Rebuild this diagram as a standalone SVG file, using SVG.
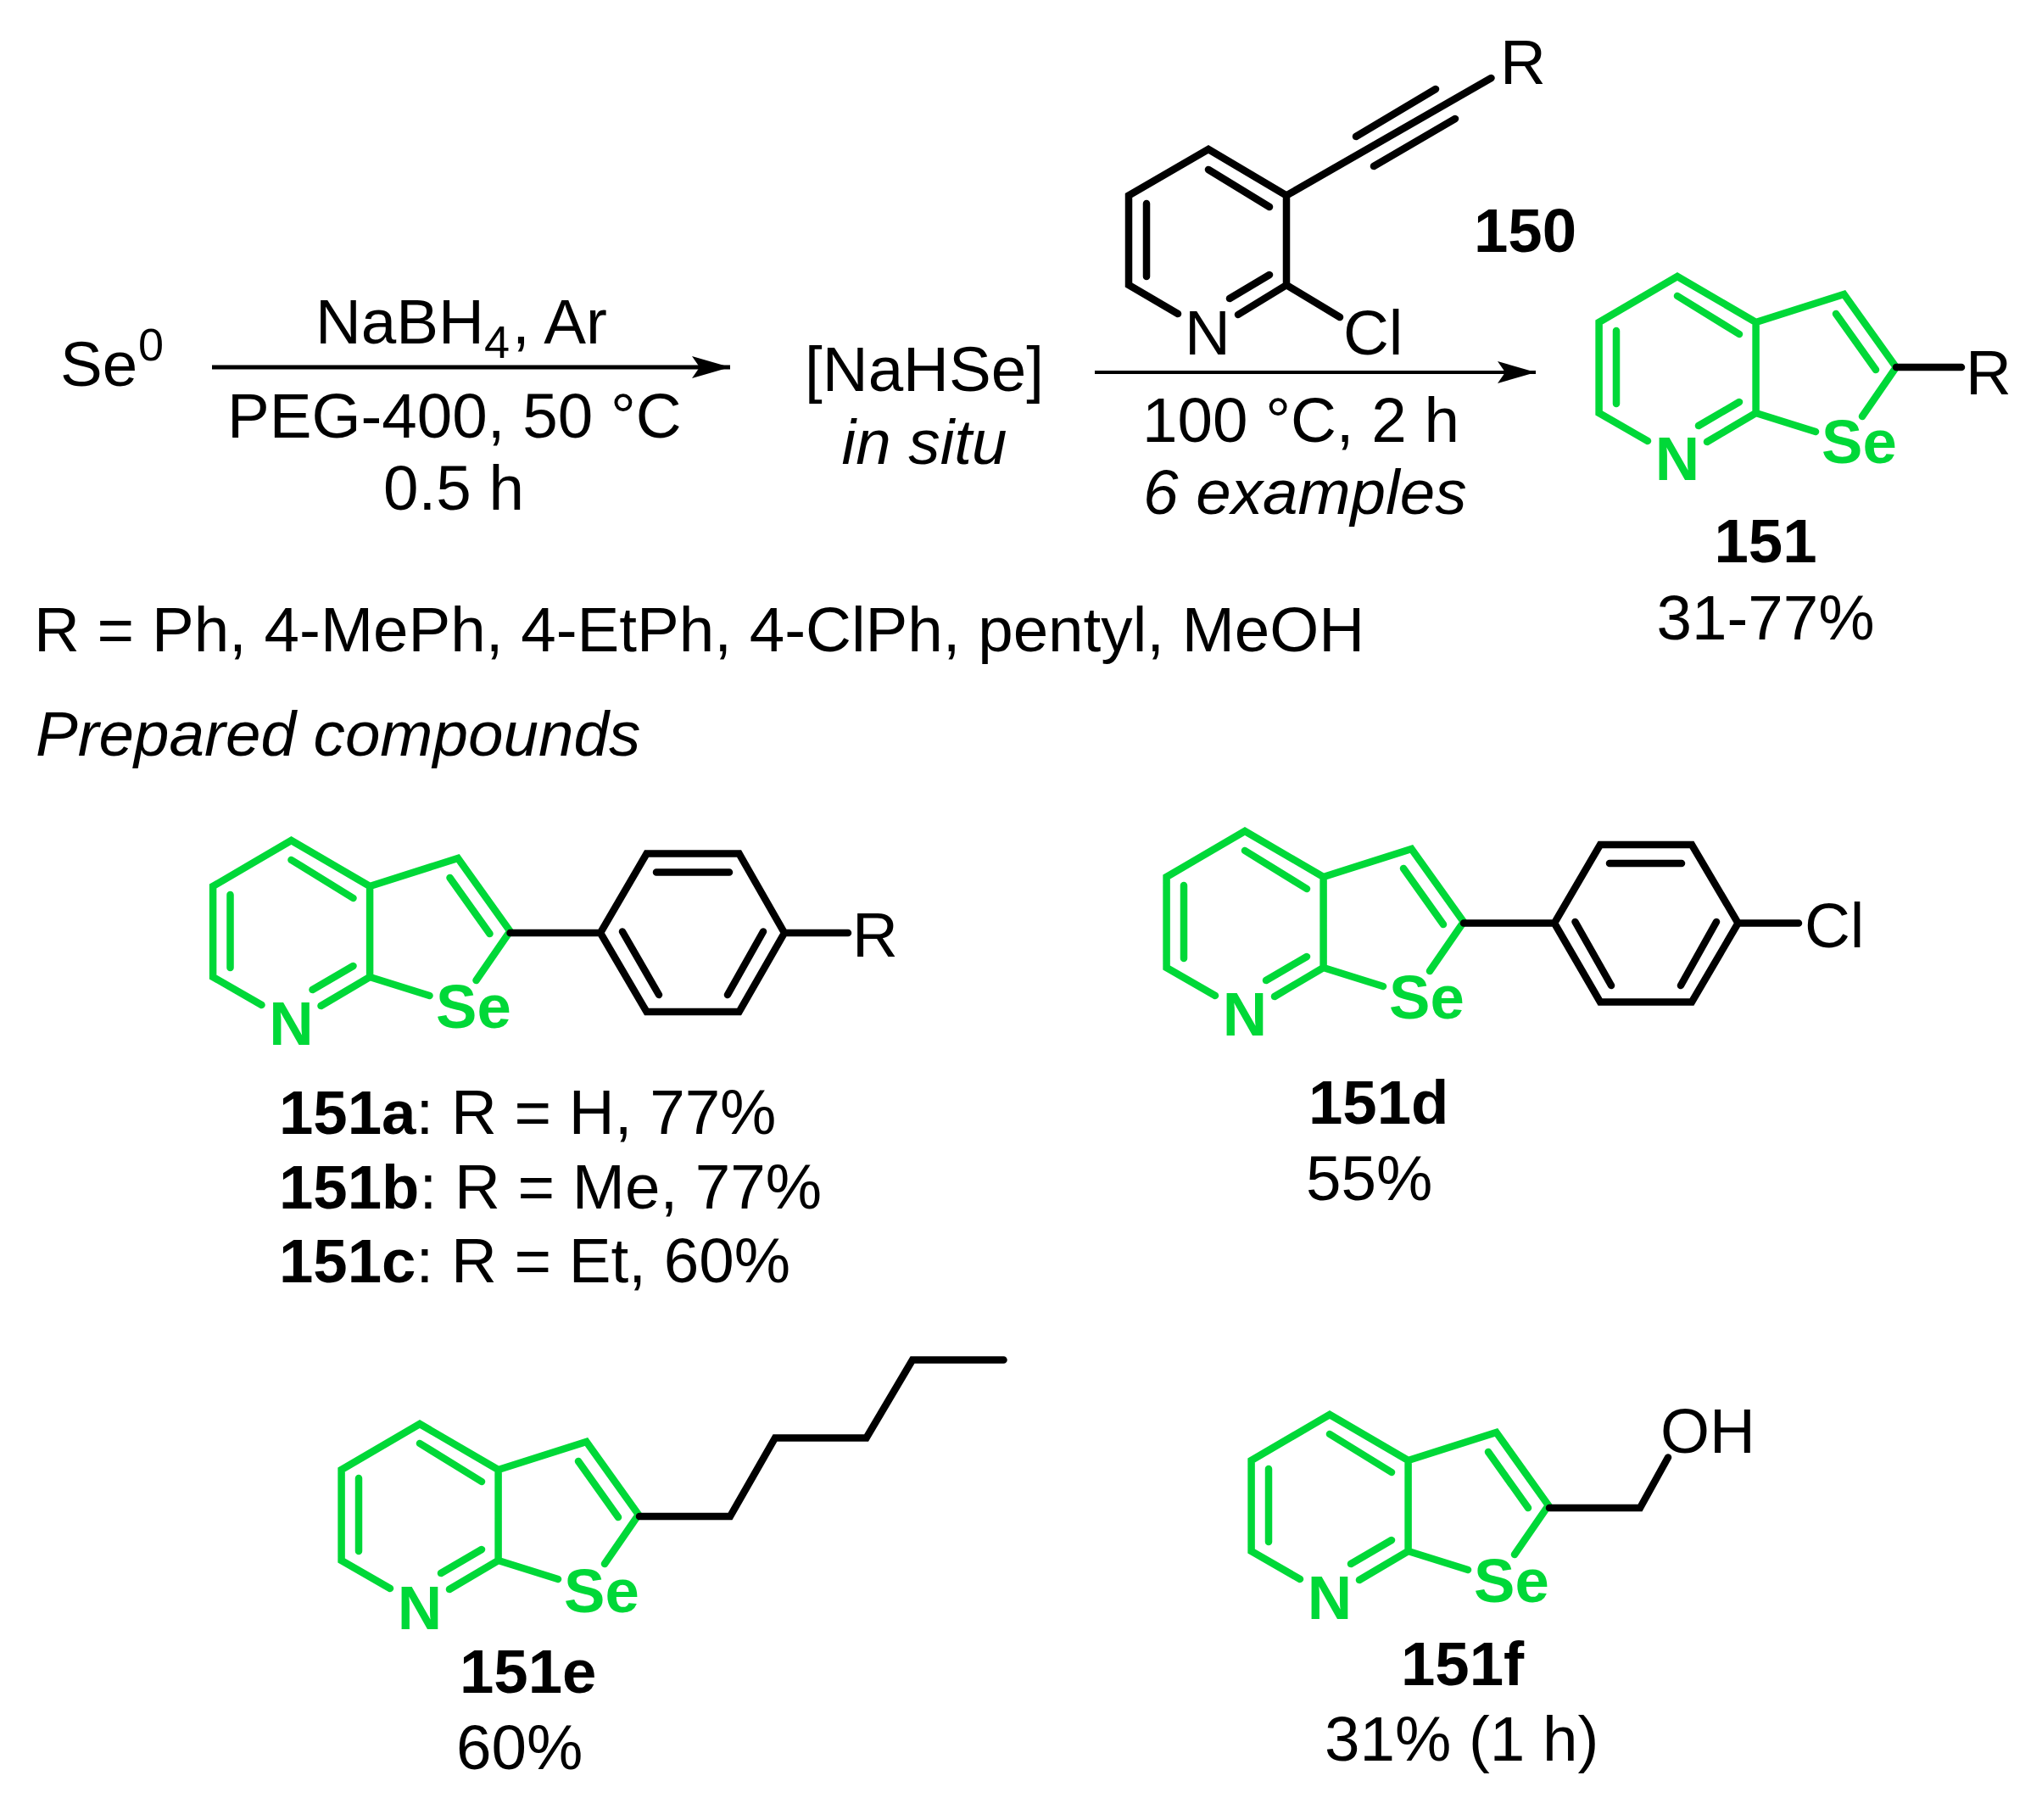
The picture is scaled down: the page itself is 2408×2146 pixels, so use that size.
<svg xmlns="http://www.w3.org/2000/svg" xmlns:xlink="http://www.w3.org/1999/xlink" width="2408" height="2146" viewBox="0 0 2408 2146">
<style>
text{font-family:"Liberation Sans",Arial,sans-serif;font-size:74.6px;fill:#000}
.b{font-weight:bold;font-size:72.6px}
.i{font-style:italic}
.m{text-anchor:middle}
.g{font-size:72.6px;font-weight:bold;fill:#00d838}
.gl,.bl{fill:none;stroke-width:8.5;stroke-linecap:round;stroke-linejoin:miter}
.gl{stroke:#00d838}
.bl{stroke:#000}
.arr{fill:none;stroke:#000}
</style>
<defs>
<path id="core" class="gl" d="M-35,194L-92.4,161V54L0,0L92.6,54V161L35,195M92.6,54L196.5,21L258,107L218,165M92.6,161L163,183M73,148L25,176M-72,64V150M0,23L73,68M187,44L234,110"/>
<marker id="head" markerUnits="userSpaceOnUse" markerWidth="46" markerHeight="26" refX="45" refY="13" orient="auto"><path d="M0,0L45,13L0,26L9,13Z" fill="#000"/></marker>
</defs>
<rect width="2408" height="2146" fill="#fff"/>
<g id="connectors">
<path class="arr" stroke-width="5" marker-end="url(#head)" d="M250,433H861"/>
<path class="arr" stroke-width="4" marker-end="url(#head)" d="M1291,439H1811"/>
</g>
<g id="se0"><text x="71" y="455">Se<tspan x="163" y="425" font-size="54">0</tspan></text></g>
<g id="cond1">
<text x="372" y="405">NaBH<tspan x="571" y="422" font-size="54">4</tspan><tspan x="604" y="405">, Ar</tspan></text>
<text x="268" y="516">PEG-400, 50 °C</text>
<text class="m" x="535" y="601">0.5 h</text>
</g>
<g id="nahse">
<text class="m" x="1090" y="461">[NaHSe]</text>
<text class="m i" x="1090" y="547">in situ</text>
</g>
<g id="n150">
<path class="bl" d="M1389,370L1331,336V230.5L1425,176L1517,230.5V336L1460,371M1497,324L1450,352M1352,240V326M1425,200L1497,244M1517,336L1580,374M1517,230.5L1758.5,92M1599,161L1693,105M1620,196L1716,140"/>
<text class="m" x="1424" y="418">N</text>
<text x="1584" y="418">Cl</text>
<text x="1769" y="99">R</text>
<text class="b" x="1738" y="297">150</text>
</g>
<g id="cond2">
<text class="m" x="1534" y="521">100 °C, 2 h</text>
<text class="i" x="1348" y="606">6 examples</text>
</g>
<g id="n151">
<use href="#core" x="1978" y="326"/>
<text class="g m" x="1978" y="566">N</text>
<text class="g" x="2148" y="546">Se</text>
<path class="bl" d="M2236,433H2313"/>
<text x="2318" y="465">R</text>
<text class="b m" x="2082" y="663">151</text>
<text class="m" x="2082" y="754">31-77%</text>
</g>
<g id="rdef">
<text x="40" y="768">R = Ph, 4-MePh, 4-EtPh, 4-ClPh, pentyl, MeOH</text>
<text class="i" x="42" y="891">Prepared compounds</text>
</g>
<g id="n151a">
<use href="#core" x="343.5" y="991"/>
<text class="g m" x="343.5" y="1232">N</text>
<text class="g" x="514" y="1212">Se</text>
<path class="bl" d="M601.500,1100H708L762.5,1006.6H871.6L925,1100L871.6,1193H762.5L708,1100M925,1100H1000M774,1028.5H860M734,1098.5L777,1173M900,1098.5L858,1173"/>
<text x="1005" y="1128">R</text>
<text x="329" y="1337"><tspan class="b">151a</tspan>: R = H, 77%</text>
<text x="329" y="1425"><tspan class="b">151b</tspan>: R = Me, 77%</text>
<text x="329" y="1512"><tspan class="b">151c</tspan>: R = Et, 60%</text>
</g>
<g id="n151d">
<use href="#core" x="1468" y="980"/>
<text class="g m" x="1468" y="1221">N</text>
<text class="g" x="1638" y="1201">Se</text>
<path class="bl" d="M1726,1088.5H1833L1887,996H1995L2049.6,1088.5L1995,1181.5H1887L1833,1088.5M2049.6,1088.5H2121M1898,1018H1983M1857.5,1087L1900,1162M2024,1087L1982,1162"/>
<text x="2128" y="1117">Cl</text>
<text class="b" x="1543" y="1325">151d</text>
<text x="1540" y="1415">55%</text>
</g>
<g id="n151e">
<use href="#core" x="495" y="1679"/>
<text class="g m" x="495" y="1921">N</text>
<text class="g" x="665" y="1901">Se</text>
<path class="bl" d="M754,1788H861L914,1695.5H1021.6L1076,1603.5H1183.5"/>
<text class="b" x="542" y="1996">151e</text>
<text x="538" y="2086">60%</text>
</g>
<g id="n151f">
<use href="#core" x="1568" y="1668"/>
<text class="g m" x="1568" y="1909">N</text>
<text class="g" x="1738" y="1889">Se</text>
<path class="bl" d="M1827,1778H1934L1967,1718.5"/>
<text x="1958" y="1713">OH</text>
<text class="b" x="1652" y="1987">151f</text>
<text x="1562" y="2076">31% (1 h)</text>
</g>
</svg>
